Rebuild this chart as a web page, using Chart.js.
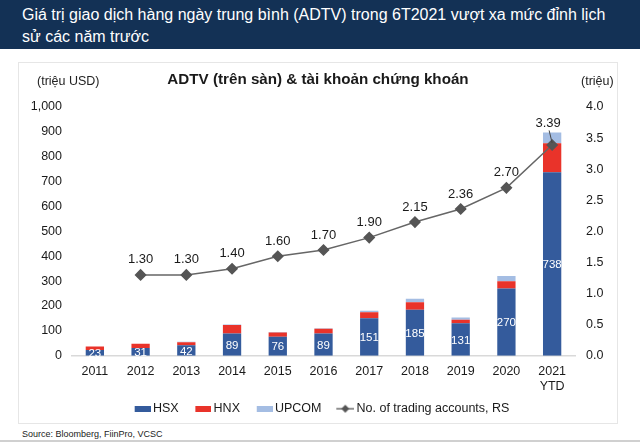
<!DOCTYPE html>
<html>
<head>
<meta charset="utf-8">
<script src="https://cdn.jsdelivr.net/npm/chart.js@4/dist/chart.umd.min.js"></script>
<style>
  body { margin: 0; width: 640px; height: 442px; background: #fff; font-family: "Liberation Sans", Arial, sans-serif; position: relative; overflow: hidden; }
  #banner { position: absolute; left: 0; top: 0; width: 640px; height: 49px; background: #133155; color: #fff; font-size: 16px; line-height: 22px; padding: 4px 0 0 22px; box-sizing: border-box; }
  #box { position: absolute; left: 18px; top: 62px; width: 600px; height: 362px; border: 1px solid #e6e6e6; box-sizing: border-box; }
  #box canvas { position: absolute; left: 0; top: 0; }
  .unit { position: absolute; top: 74px; font-size: 12.5px; color: #222; }
  #source { position: absolute; left: 22px; top: 429px; font-size: 9px; color: #222; }
  #foot { position: absolute; left: 0; top: 440px; width: 640px; height: 2px; background: #d0d0d0; }
</style>
</head>
<body>
<div id="banner">Giá trị giao dịch hàng ngày trung bình (ADTV) trong 6T2021 vượt xa mức đỉnh lịch<br>sử các năm trước</div>
<div id="box"><canvas id="myChart" width="598" height="362"></canvas></div>
<div class="unit" style="left:37px">(triệu USD)</div>
<div class="unit" style="left:581px">(triệu)</div>
<div id="source">Source: Bloomberg, FiinPro, VCSC</div>
<div id="foot"></div>
<script>
const years = ['2011', '2012', '2013', '2014', '2015', '2016', '2017', '2018', '2019', '2020', ['2021', 'YTD']]
const hsx = [23, 31, 42, 89, 76, 89, 151, 185, 131, 270, 738]
const hnx = [14, 17, 12, 35, 17, 20, 24, 30, 14, 30, 116]
const upcom = [0, 0, 2, 2, 2, 2, 6, 14, 9, 21, 44]
const accounts = [null, 1.30, 1.30, 1.40, 1.60, 1.70, 1.90, 2.15, 2.36, 2.70, 3.39]

const leftTicks = { min: 0, max: 1000, step: 100 }
const rightTicks = { min: 0, max: 4, step: 0.5 }

// legend icons carry a transparent left margin so items get spaced like the original
const swatch = (color) => {
    const c = document.createElement('canvas')
    c.width = 28
    c.height = 6
    const g = c.getContext('2d')
    g.fillStyle = color
    g.fillRect(12, 0, 16, 6)
    return c
}

const lineSwatch = () => {
    const c = document.createElement('canvas')
    c.width = 28
    c.height = 10
    const g = c.getContext('2d')
    g.strokeStyle = '#6b6b6b'
    g.lineWidth = 1.5
    g.beginPath()
    g.moveTo(10, 5)
    g.lineTo(28, 5)
    g.stroke()
    g.fillStyle = '#555'
    g.beginPath()
    g.moveTo(19, 1)
    g.lineTo(23, 5)
    g.lineTo(19, 9)
    g.lineTo(15, 5)
    g.closePath()
    g.fill()
    return c
}

// white HSX values inside bars, account numbers above the line points
const labelsPlugin = {
    id: 'labels',
    afterDatasetsDraw(chart) {
        const ctx = chart.ctx
        ctx.save()
        ctx.textAlign = 'center'
        ctx.textBaseline = 'middle'

        ctx.font = '11.5px "Liberation Sans", Arial'
        ctx.fillStyle = '#fff'
        chart.getDatasetMeta(0).data.forEach((bar, i) => {
            ctx.fillText(hsx[i], bar.x, (bar.y + bar.base) / 2 + 1)
        })

        ctx.font = '13px "Liberation Sans", Arial'
        ctx.fillStyle = '#1a1a1a'
        const topBars = chart.getDatasetMeta(2).data
        chart.getDatasetMeta(3).data.forEach((pt, i) => {
            if (accounts[i] === null) return
            let y = pt.y - 15
            const barTop = topBars[i].y
            if (barTop < pt.y) {
                // label would sit on the bar: lift it over the bar and add a leader line
                y = barTop - 9
                ctx.strokeStyle = '#444'
                ctx.lineWidth = 1
                ctx.beginPath()
                ctx.moveTo(pt.x - 3, y + 7)
                ctx.lineTo(pt.x, pt.y - 2)
                ctx.stroke()
                ctx.fillText(accounts[i].toFixed(2), pt.x - 4, y)
                return
            }
            ctx.fillText(accounts[i].toFixed(2), pt.x, y)
        })
        ctx.restore()
    }
}

const dataConfig = {
    labels: years,
    datasets: [
        { label: 'HSX', data: hsx, backgroundColor: '#345b9c', stack: 's', yAxisID: 'y', order: 2 },
        { label: 'HNX', data: hnx, backgroundColor: '#e9332a', stack: 's', yAxisID: 'y', order: 2 },
        { label: 'UPCOM', data: upcom, backgroundColor: '#a4bde3', stack: 's', yAxisID: 'y', order: 2 },
        {
            label: 'No. of trading accounts, RS',
            type: 'line',
            data: accounts,
            yAxisID: 'y1',
            borderColor: '#666',
            borderWidth: 1.5,
            pointStyle: 'rectRot',
            pointRadius: 5,
            pointBackgroundColor: '#555',
            pointBorderColor: '#555',
            order: 1
        }
    ]
}

const legendIcons = [swatch('#345b9c'), swatch('#e9332a'), swatch('#a4bde3'), lineSwatch()]

const config = {
    type: 'bar',
    data: dataConfig,
    options: {
        responsive: false,
        animation: false,
        layout: { padding: 0 },
        datasets: { bar: { barPercentage: 0.4, categoryPercentage: 1 } },
        plugins: {
            tooltip: { enabled: false },
            title: {
                display: true,
                text: 'ADTV (trên sàn) & tài khoản chứng khoán',
                color: '#1a1a1a',
                font: { family: '"Liberation Sans", Arial', size: 15.2, weight: 'bold' },
                padding: { top: 8, bottom: 17.8 }
            },
            legend: {
                position: 'bottom',
                labels: {
                    usePointStyle: true,
                    pointStyleWidth: 20,
                    color: '#1a1a1a',
                    font: { family: '"Liberation Sans", Arial', size: 12.5 },
                    padding: 8.75,
                    generateLabels: (chart) => chart.data.datasets.map((ds, i) => ({
                        text: ds.label,
                        pointStyle: legendIcons[i],
                        fontColor: '#1a1a1a',
                        datasetIndex: i,
                        lineWidth: 0
                    }))
                }
            }
        },
        scales: {
            x: {
                stacked: true,
                grid: { display: false, drawTicks: false },
                border: { display: true, color: '#d9d9d9', width: 1.5 },
                afterFit: (s) => { s.height = 38 },
                ticks: { color: '#1a1a1a', padding: 8, font: { family: '"Liberation Sans", Arial', size: 12.5 } }
            },
            y: {
                stacked: true,
                position: 'left',
                min: leftTicks.min,
                max: leftTicks.max,
                grid: { display: false, drawTicks: false },
                border: { display: false },
                afterFit: (s) => { s.width = 53 },
                ticks: {
                    stepSize: leftTicks.step,
                    padding: 10,
                    color: '#1a1a1a',
                    font: { family: '"Liberation Sans", Arial', size: 12.5 },
                    callback: (v) => v.toLocaleString('en-US')
                }
            },
            y1: {
                position: 'right',
                min: rightTicks.min,
                max: rightTicks.max,
                grid: { display: false, drawTicks: false },
                border: { display: false },
                afterFit: (s) => { s.width = 42 },
                ticks: {
                    stepSize: rightTicks.step,
                    padding: 11,
                    color: '#1a1a1a',
                    font: { family: '"Liberation Sans", Arial', size: 12.5 },
                    callback: (v) => v.toFixed(1)
                }
            }
        }
    },
    plugins: [labelsPlugin]
}

const myChart = new Chart(document.getElementById('myChart'), config)
</script>
</body>
</html>
